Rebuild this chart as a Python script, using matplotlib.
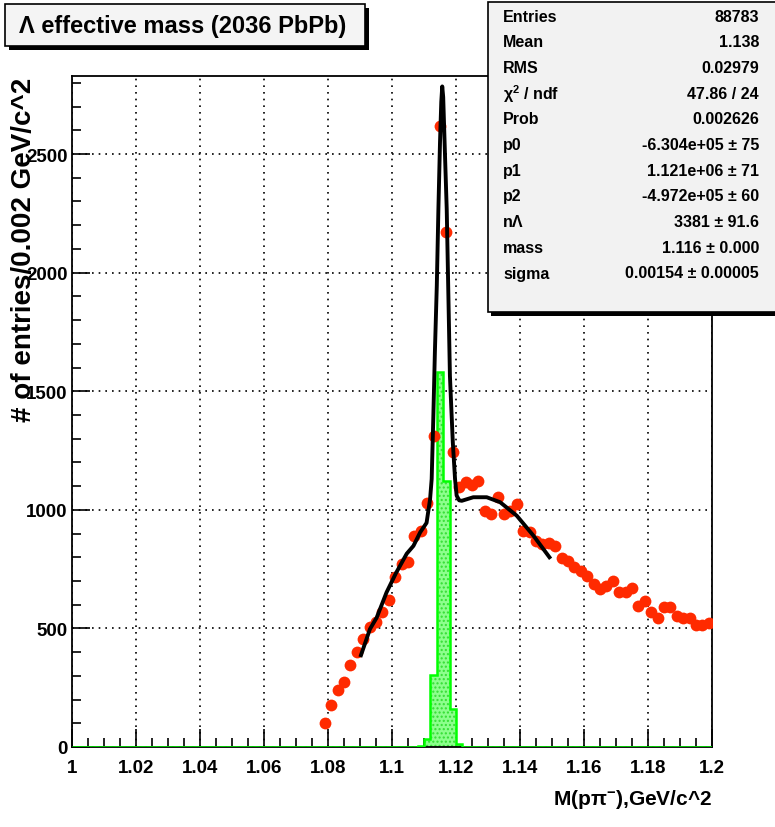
import matplotlib
matplotlib.use("Agg")
import matplotlib.pyplot as plt
from matplotlib.patches import Rectangle

plt.rcParams['font.family'] = ['Liberation Sans', 'DejaVu Sans']
plt.rcParams['font.weight'] = 'bold'
plt.rcParams['mathtext.default'] = 'regular'

# data points (bin centres, width 0.002)
mass = [1.079, 1.081, 1.083, 1.085, 1.087, 1.089, 1.091, 1.093, 1.095, 1.097,
        1.099, 1.101, 1.103, 1.105, 1.107, 1.109, 1.111, 1.113, 1.115, 1.117,
        1.119, 1.121, 1.123, 1.125, 1.127, 1.129, 1.131, 1.133, 1.135, 1.137,
        1.139, 1.141, 1.143, 1.145, 1.147, 1.149, 1.151, 1.153, 1.155, 1.157,
        1.159, 1.161, 1.163, 1.165, 1.167, 1.169, 1.171, 1.173, 1.175, 1.177,
        1.179, 1.181, 1.183, 1.185, 1.187, 1.189, 1.191, 1.193, 1.195, 1.197,
        1.199]
counts = [102, 177, 242, 273, 346, 402, 455, 505, 526, 568,
          621, 715, 770, 782, 891, 910, 1028, 1312, 2619, 2170,
          1242, 1095, 1116, 1106, 1123, 996, 982, 1053, 982, 996,
          1024, 912, 905, 870, 856, 860, 849, 795, 786, 757,
          743, 722, 687, 666, 680, 701, 652, 652, 669, 596,
          617, 568, 542, 592, 589, 554, 542, 542, 514, 514,
          523]

# fit curve
fit_x = [1.0903, 1.0931, 1.0952, 1.0983, 1.1012, 1.1046, 1.1067, 1.1088, 1.1108,
         1.1119, 1.1124, 1.1129, 1.1134, 1.1140, 1.1145, 1.1150, 1.1154, 1.1157,
         1.1160, 1.1166, 1.1171, 1.1176, 1.1181, 1.1190, 1.1197, 1.1202, 1.1210,
         1.1218, 1.1254, 1.1296, 1.1338, 1.1390, 1.1442, 1.1492]
fit_y = [387, 497, 545, 652, 732, 815, 848, 905, 945,
         1045, 1130, 1383, 1664, 1945, 2268, 2549, 2720, 2785,
         2740, 2479, 2268, 1918, 1565, 1285, 1130, 1060, 1040,
         1038, 1053, 1053, 1032, 975, 891, 800]

# green signal histogram
sig_edges = [1.0, 1.108, 1.110, 1.112, 1.114, 1.116, 1.118, 1.120, 1.122, 1.2]
sig_counts = [0, 3, 34, 303, 1582, 1123, 160, 13, 0]

stat_names = ["Entries", "Mean", "RMS", r"$\chi^2$ / ndf", "Prob", "p0", "p1", "p2",
              "n\u039b", "mass", "sigma"]
stat_values = ["88783", "1.138", "0.02979", "47.86 / 24", "0.002626",
               "-6.304e+05 \u00b1 75", "1.121e+06 \u00b1 71", "-4.972e+05 \u00b1 60",
               "3381 \u00b1 91.6", "1.116 \u00b1 0.000", "0.00154 \u00b1 0.00005"]

W, H = 775, 828
fig = plt.figure(figsize=(W / 100, H / 100), dpi=100)
ax = fig.add_axes([72 / W, 1 - 748 / H, 640 / W, 671 / H])

ax.stairs(sig_counts, sig_edges, fill=True, facecolor='#8cff8c', edgecolor='#33dd33',
          hatch='....', linewidth=0, zorder=2)
ax.stairs(sig_counts, sig_edges, color='#00ff00', linewidth=1.8, zorder=3)
ax.plot(mass, counts, 'o', color='#ff2a00', markersize=8.5, markeredgewidth=0, zorder=4)
ax.plot(fit_x, fit_y, color='black', linewidth=2.8, zorder=5)

ax.set_xlim(1.0, 1.2)
ax.set_ylim(0, 2829)
ax.set_xticks([1.0, 1.02, 1.04, 1.06, 1.08, 1.1, 1.12, 1.14, 1.16, 1.18, 1.2])
ax.set_xticklabels(["1", "1.02", "1.04", "1.06", "1.08", "1.1", "1.12", "1.14",
                    "1.16", "1.18", "1.2"])
ax.set_xticks([1.0 + 0.005 * i for i in range(41)], minor=True)
ax.set_yticks([0, 500, 1000, 1500, 2000, 2500])
ax.set_yticks(range(0, 2801, 100), minor=True)
ax.tick_params(which='both', direction='in', top=False, right=False, width=1.2,
               labelsize=13.5, colors='black')
ax.tick_params(which='major', length=13)
ax.tick_params(which='minor', length=6.5)
ax.tick_params(axis='x', pad=9)
ax.tick_params(axis='y', pad=3)
ax.grid(True, which='major', color='black', linestyle=(0, (1, 3)), linewidth=1.2)
for s in ax.spines.values():
    s.set_linewidth(1.3)

fig.text(712 / W, 1 - 800 / H, r"M(p$\pi^{-}$),GeV/c^2", ha='right', va='center',
         fontsize=15, fontweight='bold')
fig.text(24 / W, 1 - 78 / H, "# of entries/0.002 GeV/c^2", rotation=90,
         ha='center', va='top', fontsize=20, fontweight='bold')

# title box with shadow
fig.patches.append(Rectangle((9 / W, 1 - 51 / H), 360 / W, 42 / H, transform=fig.transFigure,
                             facecolor='black', edgecolor='none', zorder=10))
fig.patches.append(Rectangle((5 / W, 1 - 47 / H), 360 / W, 42 / H, transform=fig.transFigure,
                             facecolor='#f4f4f4', edgecolor='black', linewidth=1.2, zorder=11))
fig.text(183 / W, 1 - 27 / H, "\u039b effective mass (2036 PbPb)", ha='center', va='center',
         fontsize=17, fontweight='bold', zorder=12)

# stats box with shadow
fig.patches.append(Rectangle((491 / W, 1 - 317 / H), 290 / W, 314 / H, transform=fig.transFigure,
                             facecolor='black', edgecolor='none', zorder=10))
fig.patches.append(Rectangle((488 / W, 1 - 313 / H), 290 / W, 310 / H, transform=fig.transFigure,
                             facecolor='#f2f2f2', edgecolor='black', linewidth=1.2, zorder=11))
for i, (name, val) in enumerate(zip(stat_names, stat_values)):
    yy = 1 - (17 + 25.7 * i) / H
    fig.text(503 / W, yy, name, ha='left', va='center', fontsize=11.5, fontweight='bold', zorder=12)
    fig.text(759 / W, yy, val, ha='right', va='center', fontsize=11.5, fontweight='bold', zorder=12)

fig.savefig("out.png", dpi=100)
